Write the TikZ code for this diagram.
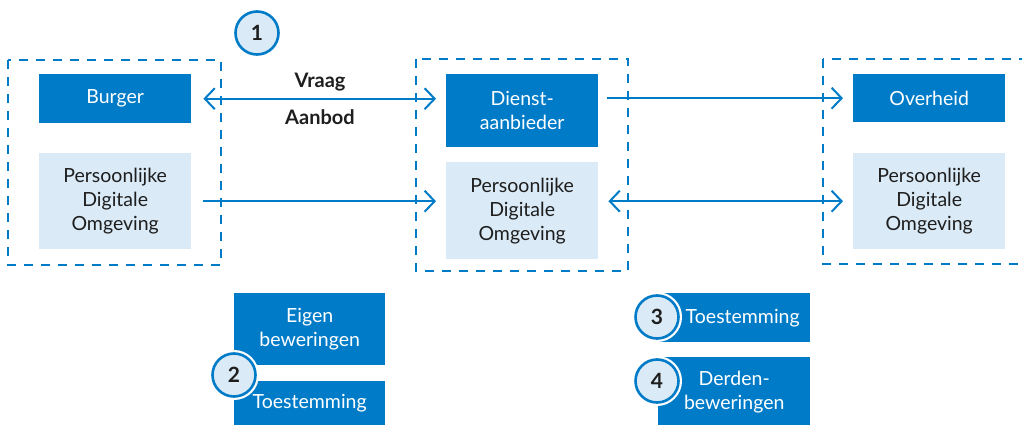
\documentclass[tikz,border=0pt]{standalone}
\usepackage{fontspec}
\setmainfont{Lato}
\usetikzlibrary{arrows.meta,positioning}
\definecolor{rijksblue}{HTML}{007BC7}
\definecolor{paleblue}{HTML}{DAEAF6}
\definecolor{ink}{HTML}{1E1E1E}
\tikzset{
  boxfont/.style={font=\fontsize{19.5}{24}\selectfont},
  darkbox/.style={fill=rijksblue, text=white, inner sep=0pt, align=center,
    boxfont, anchor=north west},
  palebox/.style={fill=paleblue, text=ink, inner sep=0pt, align=center,
    boxfont, anchor=north west},
  group/.style={draw=rijksblue, line width=2.6pt, dash pattern=on 9pt off 8pt},
  arr/.style={draw=rijksblue, line width=2pt,
    -{Straight Barb[length=10pt,width=21pt,line width=2pt]}},
  biarr/.style={draw=rijksblue, line width=2pt,
    {Straight Barb[length=10pt,width=21pt,line width=2pt]}-{Straight Barb[length=10pt,width=21pt,line width=2pt]}},
  numdot/.style={circle, fill=paleblue, draw=rijksblue, line width=2.6pt,
    minimum size=43pt, inner sep=0pt, text=ink,
    font=\fontsize{21}{24}\selectfont\bfseries},
  ringed/.style={numdot, preaction={draw=white, line width=7pt}},
  lbl/.style={text=ink, font=\fontsize{20}{24}\selectfont\bfseries}
}
\begin{document}
\begin{tikzpicture}[x=1pt,y=-1pt]
\useasboundingbox (0,0) rectangle (1022,425);
\clip (0,0) rectangle (1022,425);

% actor groups
\draw[group] (8,60) rectangle (221,265);
\draw[group] (416,59) rectangle (628,271);
\draw[group] (823,59) rectangle (1035,264);

% citizen
\node[darkbox, minimum width=152pt, minimum height=49pt] (burger) at (39,74) {Burger};
\node[palebox, minimum width=152pt, minimum height=96pt] (pdoA) at (39,153) {Persoonlijke\\Digitale\\Omgeving};

% service provider
\node[darkbox, minimum width=152pt, minimum height=73pt] (dienst) at (446,74) {Dienst-\\aanbieder};
\node[palebox, minimum width=152pt, minimum height=97pt] (pdoB) at (446,162) {Persoonlijke\\Digitale\\Omgeving};

% government
\node[darkbox, minimum width=152pt, minimum height=48pt] (overheid) at (853,74) {Overheid};
\node[palebox, minimum width=152pt, minimum height=96pt] (pdoC) at (853,153) {Persoonlijke\\Digitale\\Omgeving};

% exchanges
\draw[biarr] ([xshift=12pt]burger.east) -- ([xshift=-10pt]dienst.west |- burger.east);
\node[lbl] (vraag) at (320,82) {Vraag};
\node[lbl] (aanbod) at (320,117) {Aanbod};
\draw[arr] ([xshift=12pt]pdoA.east) -- ([xshift=-10pt]pdoB.west |- pdoA.east);
\draw[arr] ([xshift=9pt]dienst.east |- overheid.west) -- ([xshift=-10pt]overheid.west);
\draw[biarr] ([xshift=10pt]pdoB.east |- pdoC.west) -- ([xshift=-10pt]pdoC.west);

\node[numdot] (n1) at (257,33) {1};

% bottom left: own claims and consent
\node[darkbox, minimum width=151pt, minimum height=72pt] (eigen) at (234,293) {Eigen\\beweringen};
\node[darkbox, minimum width=151pt, minimum height=44pt] (toestA) at (234,381) {Toestemming};
\node[ringed] (n2) at (234,375) {2};

% bottom right: consent and third-party claims
\node[darkbox, minimum width=152pt, minimum height=49pt] (toestB) at (658,293) {\hspace*{17pt}Toestemming};
\node[darkbox, minimum width=152pt, minimum height=70pt] (derden) at (658,357) {Derden-\\beweringen};
\node[ringed] (n3) at (657,317) {3};
\node[ringed] (n4) at (657,381) {4};
\end{tikzpicture}
\end{document}
